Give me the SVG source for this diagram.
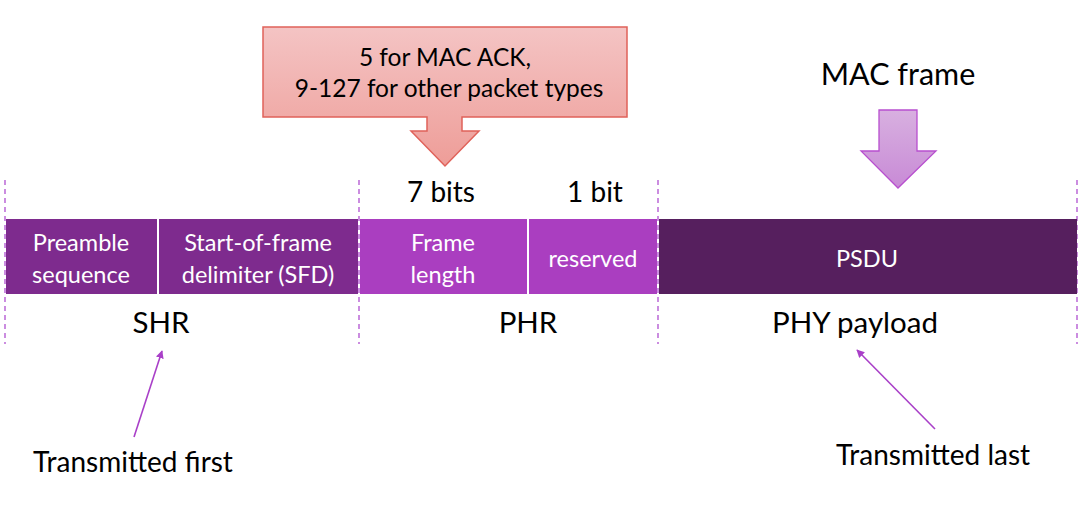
<svg xmlns="http://www.w3.org/2000/svg" width="1088" height="505" viewBox="0 0 1088 505">
<defs>
<linearGradient id="redg" x1="0" y1="0" x2="0" y2="1">
<stop offset="0" stop-color="#F4C4C4"/>
<stop offset="1" stop-color="#EE9D98"/>
</linearGradient>
<linearGradient id="purg" x1="0" y1="0" x2="0" y2="1">
<stop offset="0" stop-color="#D8B0E0"/>
<stop offset="1" stop-color="#C88AD6"/>
</linearGradient>
<marker id="ah" viewBox="0 0 10 10" refX="9" refY="5" markerWidth="8" markerHeight="8" orient="auto" markerUnits="userSpaceOnUse">
<path d="M0,0 L10,5 L0,10 z" fill="#A940C8"/>
</marker>
</defs>
<style>
text{font-family:Lato,"Open Sans","Liberation Sans",sans-serif;text-anchor:middle}
.w{fill:#ffffff;font-size:23.5px}
.b{fill:#000000;font-size:28px}
.lbl{fill:#000000;font-size:29.5px}
.dash{stroke:#B050D0;stroke-width:1.3;stroke-dasharray:5,4;fill:none}
.conn{stroke:#A940C8;stroke-width:1.6;fill:none;marker-end:url(#ah)}
</style>
<rect width="1088" height="505" fill="#ffffff"/>
<g id="dashes">
<line class="dash" x1="5" y1="180" x2="5" y2="344"/>
<line class="dash" x1="359" y1="180" x2="359" y2="344"/>
<line class="dash" x1="658" y1="180" x2="658" y2="344"/>
<line class="dash" x1="1077" y1="180" x2="1077" y2="344"/>
</g>
<g id="preamble">
<rect x="6" y="219" width="151" height="75" fill="#7E2B8E"/>
<text class="w" x="81" y="251">Preamble</text>
<text class="w" x="81" y="283">sequence</text>
</g>
<g id="sfd">
<rect x="159" y="219" width="199" height="75" fill="#7E2B8E"/>
<text class="w" x="258" y="251">Start-of-frame</text>
<text class="w" x="258" y="283">delimiter (SFD)</text>
</g>
<g id="framelength">
<rect x="360" y="219" width="167" height="75" fill="#AA3EC0"/>
<text class="w" x="443" y="251">Frame</text>
<text class="w" x="443" y="283">length</text>
</g>
<g id="reserved">
<rect x="529" y="219" width="128" height="75" fill="#AA3EC0"/>
<text class="w" x="593" y="267">reserved</text>
</g>
<g id="psdu">
<rect x="659" y="219" width="418" height="75" fill="#561F5E"/>
<text class="w" x="867" y="267">PSDU</text>
</g>
<g id="bits">
<text class="b" x="441" y="202">7 bits</text>
<text class="b" x="595" y="202">1 bit</text>
</g>
<g id="sections">
<text class="lbl" x="161" y="333">SHR</text>
<text class="lbl" x="528" y="333">PHR</text>
<text class="lbl" x="855" y="333">PHY payload</text>
</g>
<g id="callout">
<path d="M263,27 H627 V117 H462 V131 H479 L445,166 L411,131 H427 V117 H263 Z" fill="url(#redg)" stroke="#E0625A" stroke-width="1.5"/>
<text fill="#000" font-size="24.5" x="445" y="66">5 for MAC ACK,</text>
<text fill="#000" font-size="24.5" x="449" y="97">9-127 for other packet types</text>
</g>
<g id="macframe">
<text fill="#000" font-size="30.5" x="898" y="85">MAC frame</text>
<path d="M879,110 H917 V151 H936 L898,188 L861,151 H879 Z" fill="url(#purg)" stroke="#B84FCF" stroke-width="1.3"/>
</g>
<g id="connectors">
<line class="conn" x1="134" y1="437" x2="162" y2="351"/>
<line class="conn" x1="935" y1="429" x2="857" y2="350"/>
</g>
<g id="notes">
<text class="b" x="133" y="472">Transmitted first</text>
<text class="b" x="933" y="465">Transmitted last</text>
</g>
</svg>
